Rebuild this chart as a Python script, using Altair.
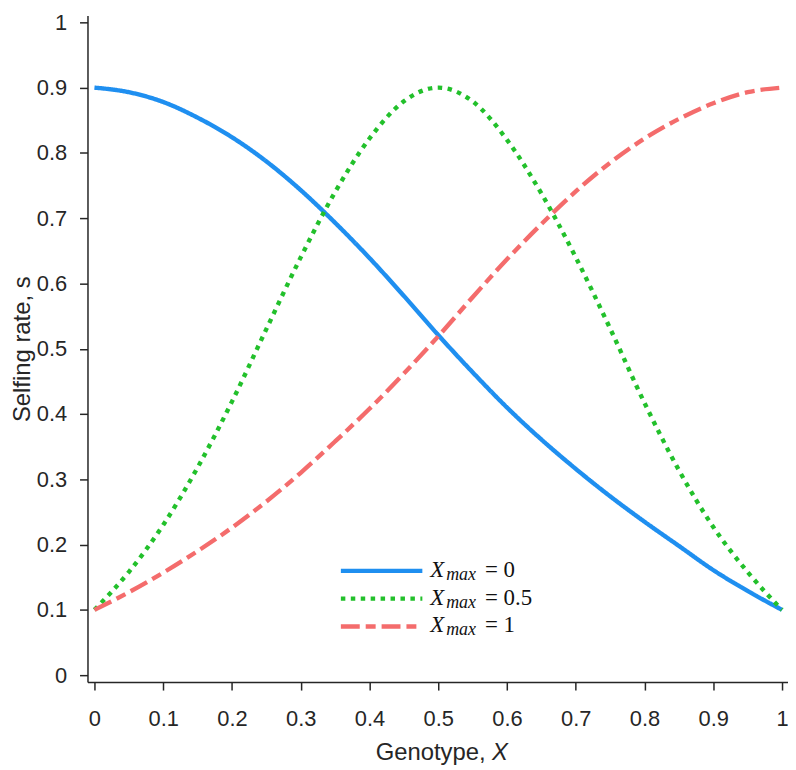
import altair as alt
import pandas as pd

# ---- data ----
x_vals = [0.0, 0.05, 0.1, 0.15, 0.2, 0.25, 0.3, 0.35, 0.4, 0.45, 0.5,
          0.55, 0.6, 0.65, 0.7, 0.75, 0.8, 0.85, 0.9, 0.95, 1.0]
s_xmax_0 = [0.900, 0.893, 0.878, 0.854, 0.824, 0.787, 0.743, 0.693, 0.639, 0.581, 0.521,
            0.464, 0.410, 0.361, 0.316, 0.274, 0.235, 0.198, 0.161, 0.129, 0.100]
s_xmax_05 = [0.100, 0.158, 0.230, 0.318, 0.419, 0.530, 0.640, 0.740, 0.822, 0.879, 0.900,
             0.879, 0.820, 0.738, 0.640, 0.531, 0.417, 0.314, 0.227, 0.158, 0.100]
s_xmax_1 = [0.100, 0.127, 0.157, 0.190, 0.226, 0.266, 0.310, 0.358, 0.408, 0.462, 0.519,
            0.579, 0.637, 0.691, 0.741, 0.785, 0.822, 0.852, 0.876, 0.893, 0.900]
series_labels = ["0", "0.5", "1"]
tick_values = [0, 0.1, 0.2, 0.3, 0.4, 0.5, 0.6, 0.7, 0.8, 0.9, 1]

# ---- styling ----
colors = ["#1f8ff0", "#22c02b", "#f46c6c"]
dashes = [[1, 0], [4.5, 5.5], [19, 6, 10, 6]]
ink = "#262626"
sans = "Liberation Sans"
serif = "Liberation Serif"

rows = []
for lab, ys in zip(series_labels, [s_xmax_0, s_xmax_05, s_xmax_1]):
    for xv, yv in zip(x_vals, ys):
        rows.append({"X": xv, "s": yv, "series": lab})
df = pd.DataFrame(rows)

color_enc = alt.Color("series:N", scale=alt.Scale(domain=series_labels, range=colors), legend=None)
dash_enc = alt.StrokeDash("series:N", scale=alt.Scale(domain=series_labels, range=dashes), legend=None)

x_enc = alt.X("X:Q", title=None,
              scale=alt.Scale(domain=[-0.0101, 1.0087], nice=False, zero=False),
              axis=alt.Axis(values=tick_values, format="~g", labelFlush=False, labelOverlap=False,
                            grid=False, tickSize=8, labelPadding=19))
y_enc = alt.Y("s:Q", title="Selfing rate, s",
              scale=alt.Scale(domain=[-0.01065, 1.01065], nice=False, zero=False),
              axis=alt.Axis(values=tick_values, format="~g", labelFlush=False, labelOverlap=False,
                            grid=False, tickSize=8, labelPadding=13, titlePadding=2))

lines = alt.Chart(df).mark_line(strokeWidth=4.4, strokeCap="butt", interpolate="monotone").encode(
    x=x_enc, y=y_enc, color=color_enc, strokeDash=dash_enc, detail="series:N"
)

# ---- manual legend ----
LEG_TOP, LEG_STEP = 559, 28
leg_df = pd.DataFrame({"series": series_labels, "i": [0, 1, 2]})
leg_base = alt.Chart(leg_df).transform_calculate(
    ly=f"{LEG_TOP} + {LEG_STEP} * datum.i",
    ty=f"{LEG_TOP + 6} + {LEG_STEP} * datum.i",
    sy=f"{LEG_TOP + 9} + {LEG_STEP} * datum.i",
    eq="'= ' + datum.series",
)
leg_lines = leg_base.mark_rule(strokeWidth=4.4, strokeCap="butt").encode(
    x=alt.value(255), x2=alt.value(337), y=alt.Y("ly:Q", scale=None),
    color=color_enc, strokeDash=dash_enc,
)
leg_X = leg_base.mark_text(text="X", font=serif, fontStyle="italic", fontSize=23,
                           align="left", baseline="alphabetic", color="#111111").encode(
    x=alt.value(345), y=alt.Y("ty:Q", scale=None))
leg_max = leg_base.mark_text(text="max", font=serif, fontStyle="italic", fontSize=18,
                             align="left", baseline="alphabetic", color="#111111").encode(
    x=alt.value(361), y=alt.Y("sy:Q", scale=None))
leg_eq = leg_base.mark_text(font=serif, fontSize=23, align="left", baseline="alphabetic",
                            color="#111111").encode(
    x=alt.value(400), y=alt.Y("ty:Q", scale=None), text="eq:N")

# ---- x title with italic X ----
title_df = pd.DataFrame({"t": ["Genotype,"], "v": ["X"]})
xt1 = alt.Chart(title_df).mark_text(font=sans, fontSize=24, align="left", baseline="alphabetic",
                                    color=ink).encode(x=alt.value(290), y=alt.value(749), text="t:N")
xt2 = alt.Chart(title_df).mark_text(font=sans, fontSize=24, fontStyle="italic", align="left",
                                    baseline="alphabetic", color=ink).encode(
    x=alt.value(407), y=alt.value(749), text="v:N")

chart = alt.layer(lines, leg_lines, leg_X, leg_max, leg_eq, xt1, xt2).properties(
    width=705, height=671,
    autosize=alt.AutoSizeParams(type="none"),
    padding={"left": 80, "top": 5, "right": 0, "bottom": 84},
    background="white",
).configure_view(strokeWidth=0).configure_axis(
    domainColor=ink, domainWidth=1.5, tickColor=ink, tickWidth=1.5,
    labelFont=sans, labelFontSize=22, labelColor=ink,
    titleFont=sans, titleFontSize=24, titleFontWeight="normal", titleColor=ink,
)

chart.save("out.html", embed_options={"renderer": "svg", "actions": False})
